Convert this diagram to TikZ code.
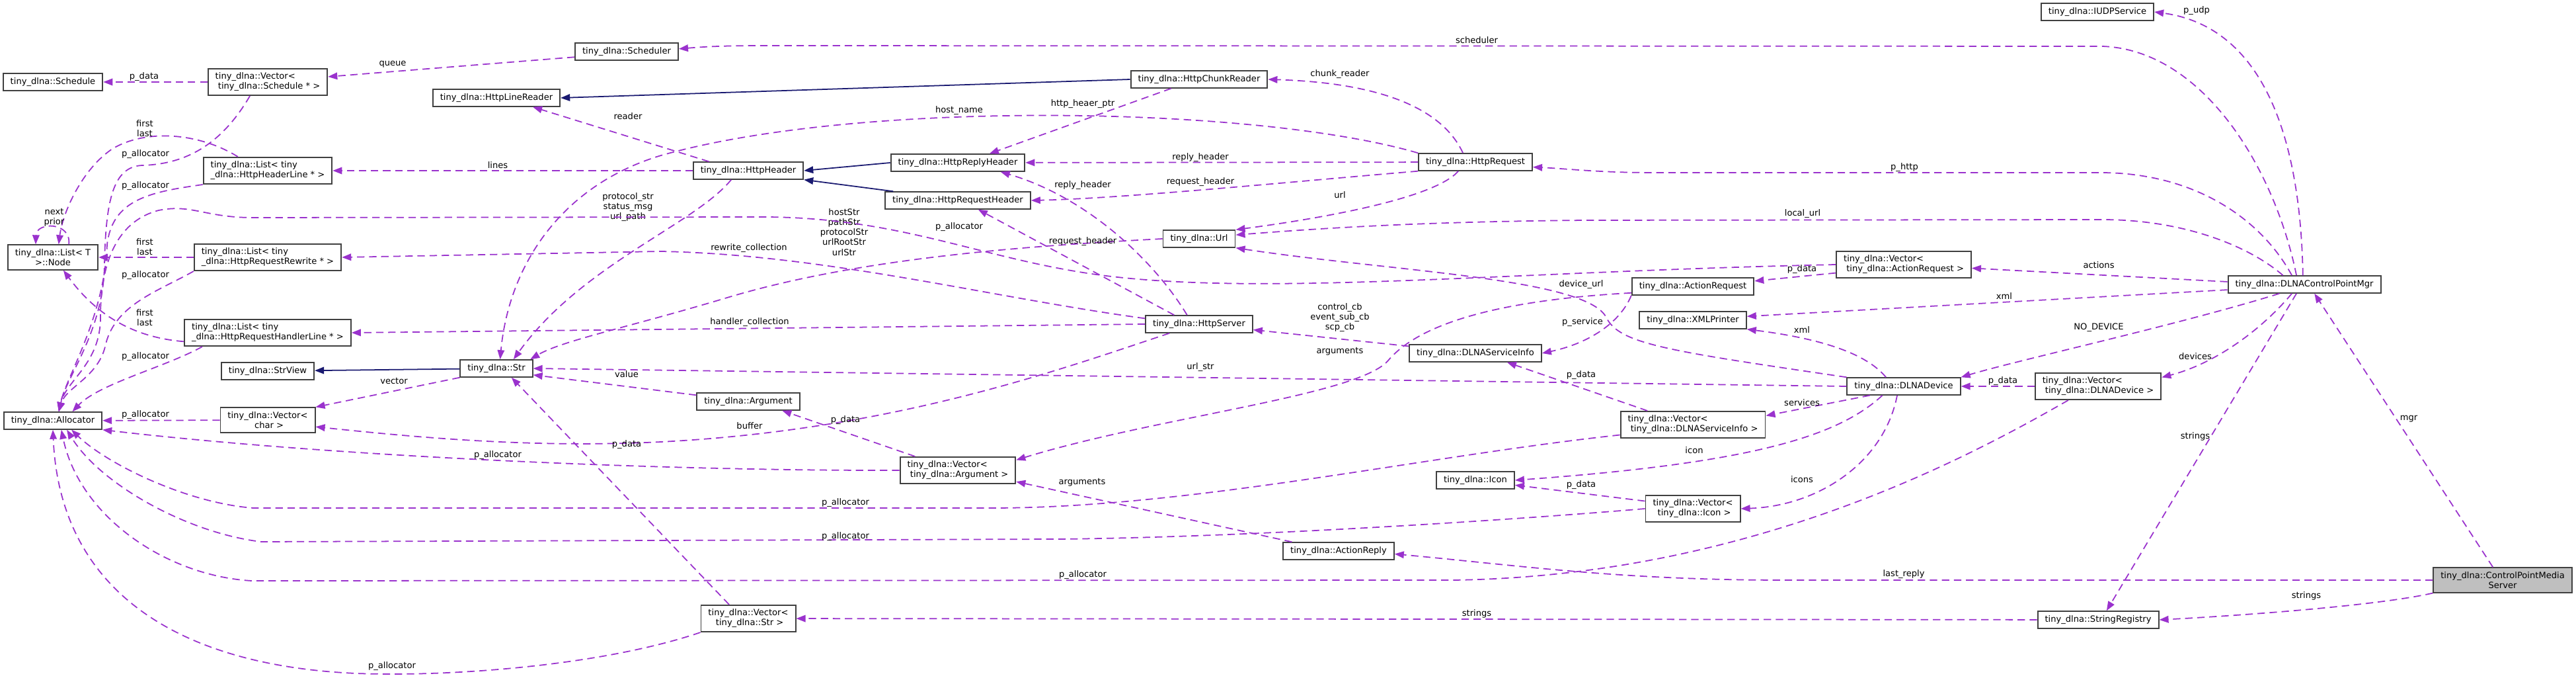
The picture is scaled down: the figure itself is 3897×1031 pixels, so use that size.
\documentclass[tikz,border=0pt]{standalone}
\usepackage{fontspec}
\setmainfont{DejaVu Sans}
\usetikzlibrary{arrows.meta}
\definecolor{usecol}{HTML}{9A32CD}
\definecolor{inhcol}{HTML}{191970}
\definecolor{boxline}{HTML}{404040}
\definecolor{rootfill}{HTML}{BFBFBF}
\newcommand{\dxfont}{\fontsize{3.72pt}{4.3pt}\selectfont}
\newcommand{\lead}{\hspace*{.32em}}
\tikzset{
  cls/.style  = {rectangle, draw=boxline, line width=0.55pt, fill=white,
                 inner xsep=0.11cm, inner ysep=0.06cm, minimum height=0.255cm,
                 align=center, font=\dxfont},
  clsl/.style = {cls, align=left},
  root/.style = {cls, fill=rootfill},
  mbr/.style  = {draw=usecol, line width=0.5pt, dash pattern=on 3.2pt off 2pt,
                 -{Triangle[length=4pt,width=3pt]}},
  inh/.style  = {draw=inhcol, line width=0.5pt, -{Triangle[length=4pt,width=3pt]}},
  lbl/.style  = {inner sep=0pt, align=center, font=\dxfont},
}

\begin{document}
\begin{tikzpicture}[x=0.01cm, y=-0.01cm]
  \useasboundingbox (0,0) rectangle (3897,1031);

  % classes
  \node[cls]  (schedule)      at (80,124)   {tiny\_dlna::Schedule};
  \node[clsl] (vecsched)      at (405,124)  {tiny\_dlna::Vector<\\\lead tiny\_dlna::Schedule * >};
  \node[cls]  (scheduler)     at (948,78)   {tiny\_dlna::Scheduler};
  \node[cls]  (linereader)    at (751,148)  {tiny\_dlna::HttpLineReader};
  \node[cls]  (chunkreader)   at (1814,120) {tiny\_dlna::HttpChunkReader};
  \node[clsl] (listhdr)       at (405,258)  {tiny\_dlna::List< tiny\\\_dlna::HttpHeaderLine * >};
  \node[cls]  (lnode)         at (80,389)   {tiny\_dlna::List< T\\>::Node};
  \node[clsl] (listrw)        at (405,389)  {tiny\_dlna::List< tiny\\\_dlna::HttpRequestRewrite * >};
  \node[clsl] (listhl)        at (405,503)  {tiny\_dlna::List< tiny\\\_dlna::HttpRequestHandlerLine * >};
  \node[cls]  (strview)       at (405,561)  {tiny\_dlna::StrView};
  \node[cls]  (str)           at (751,557)  {tiny\_dlna::Str};
  \node[cls]  (vecchar)       at (405,635)  {tiny\_dlna::Vector<\\\lead char >};
  \node[cls]  (alloc)         at (80,636)   {tiny\_dlna::Allocator};
  \node[cls]  (httpheader)    at (1132,258) {tiny\_dlna::HttpHeader};
  \node[cls]  (replyheader)   at (1449,246) {tiny\_dlna::HttpReplyHeader};
  \node[cls]  (requestheader) at (1449,303) {tiny\_dlna::HttpRequestHeader};
  \node[cls]  (url)           at (1814,361) {tiny\_dlna::Url};
  \node[cls]  (httpserver)    at (1814,490) {tiny\_dlna::HttpServer};
  \node[cls]  (argument)      at (1132,607) {tiny\_dlna::Argument};
  \node[clsl] (vecarg)        at (1449,711) {tiny\_dlna::Vector<\\\lead tiny\_dlna::Argument >};
  \node[cls]  (vecstr)        at (1132,935) {tiny\_dlna::Vector<\\\lead tiny\_dlna::Str >};
  \node[cls]  (actionreply)   at (2025,833) {tiny\_dlna::ActionReply};
  \node[cls]  (httprequest)   at (2232,245) {tiny\_dlna::HttpRequest};
  \node[clsl] (vecactreq)     at (2880,400) {tiny\_dlna::Vector<\\\lead tiny\_dlna::ActionRequest >};
  \node[cls]  (actionrequest) at (2561,433) {tiny\_dlna::ActionRequest};
  \node[cls]  (xmlprinter)    at (2561,484) {tiny\_dlna::XMLPrinter};
  \node[cls]  (servinfo)      at (2232,534) {tiny\_dlna::DLNAServiceInfo};
  \node[cls]  (dlnadevice)    at (2880,584) {tiny\_dlna::DLNADevice};
  \node[clsl] (vecservinfo)   at (2561,642) {tiny\_dlna::Vector<\\\lead tiny\_dlna::DLNAServiceInfo >};
  \node[cls]  (icon)          at (2232,726) {tiny\_dlna::Icon};
  \node[cls]  (vecicon)       at (2561,769) {tiny\_dlna::Vector<\\\lead tiny\_dlna::Icon >};
  \node[cls]  (iudp)          at (3173,18)  {tiny\_dlna::IUDPService};
  \node[cls]  (cpmgr)         at (3486,430) {tiny\_dlna::DLNAControlPointMgr};
  \node[clsl] (vecdev)        at (3174,584) {tiny\_dlna::Vector<\\\lead tiny\_dlna::DLNADevice >};
  \node[root] (cpms)          at (3786,877) {tiny\_dlna::ControlPointMedia\\Server};
  \node[cls]  (strreg)        at (3174,937) {tiny\_dlna::StringRegistry};

  % inheritance
  \draw[inh] (chunkreader.west) -- (linereader.east);
  \draw[inh] (replyheader.west) -- (httpheader.east);
  \draw[inh] (requestheader.172) -- (httpheader.south east);
  \draw[inh] (str) -- (strview);

  % members, left part
  \draw[mbr] (vecsched) -- (schedule) node[lbl] (t1) at (218,116) {p\_data};
  \draw[mbr] (scheduler.186) -- (vecsched.5) node[lbl] (t2) at (594,97) {queue};
  \draw[mbr] (vecsched.218) .. controls (340,210) and (290,248) .. (215,250)
    .. controls (172,252) and (160,300) .. (158,400)
    .. controls (157,500) and (100,570) .. (alloc.57) node[lbl] (t3) at (220,233) {p\_allocator};
  \draw[mbr] (listhdr.155) .. controls (300,200) and (220,195) .. (170,225)
    .. controls (125,255) and (95,320) .. (lnode.66) node[lbl] (t4) at (219,194) {first\\last};
  \draw[mbr] (listhdr.south west) .. controls (230,290) and (170,300) .. (162,370)
    .. controls (158,480) and (100,570) .. (alloc.57) node[lbl] (t5) at (220,281) {p\_allocator};
  \draw[mbr] (lnode.39) .. controls (108,335) and (55,335) .. (lnode.143) node[lbl] (t6) at (82,329) {next\\prior};
  \draw[mbr] (listrw) -- (lnode) node[lbl] (t7) at (219,373) {first\\last};
  \draw[mbr] (listrw.south west) .. controls (240,440) and (175,460) .. (160,520)
    .. controls (150,570) and (100,585) .. (alloc.57) node[lbl] (t8) at (220,416) {p\_allocator};
  \draw[mbr] (listhl.186) .. controls (200,510) and (145,475) .. (lnode.309) node[lbl] (t9) at (219,480) {first\\last};
  \draw[mbr] (listhl.192) .. controls (250,555) and (150,580) .. (alloc.25) node[lbl] (t10) at (220,539) {p\_allocator};
  \draw[mbr] (vecchar) -- (alloc) node[lbl] (t11) at (220,627) {p\_allocator};
  \draw[mbr] (str.south west) -- (vecchar.north east) node[lbl] (t12) at (596,576) {vector};
  \draw[mbr] (httpheader.167) -- (linereader.346) node[lbl] (t13) at (950,176) {reader};
  \draw[mbr] (httpheader) -- (listhdr) node[lbl] (t14) at (753,250) {lines};
  \draw[mbr] (httpheader.208) .. controls (1050,340) and (880,400) .. (str.28)
    node[lbl] (t15) at (950,313) {protocol\_str\\status\_msg\\url\_path};
  \draw[mbr] (url.west) .. controls (1550,372) and (1300,390) .. (1100,450)
    .. controls (950,495) and (850,515) .. (str.15)
    node[lbl] (t16) at (1277,351) {hostStr\\pathStr\\protocolStr\\urlRootStr\\urlStr};

  % http request / server
  \draw[mbr] (httprequest.144) .. controls (2180,160) and (2080,125) .. (chunkreader.east)
    node[lbl] (t17) at (2027,112) {chunk\_reader};
  \draw[mbr] (chunkreader.198) -- (replyheader.16) node[lbl] (t18) at (1638,157) {http\_heaer\_ptr};
  \draw[mbr] (httprequest.north west) .. controls (1900,160) and (1300,150) .. (1000,235)
    .. controls (850,280) and (770,400) .. (str.68) node[lbl] (t19) at (1451,167) {host\_name};
  \draw[mbr] (httprequest) -- (replyheader) node[lbl] (t20) at (1816,238) {reply\_header};
  \draw[mbr] (httprequest.south west) .. controls (1950,275) and (1700,300) .. (requestheader.east)
    node[lbl] (t21) at (1816,275) {request\_header};
  \draw[mbr] (httprequest.208) .. controls (2170,300) and (2000,330) .. (url.north east)
    node[lbl] (t22) at (2027,295) {url};
  \draw[mbr] (httpserver.143) .. controls (1750,400) and (1650,300) .. (replyheader.348)
    node[lbl] (t23) at (1638,280) {reply\_header};
  \draw[mbr] (httpserver.160) -- (requestheader.336) node[lbl] (t24) at (1638,365) {request\_header};
  \draw[mbr] (httpserver.197) .. controls (1600,560) and (1350,650) .. (1000,668)
    .. controls (800,678) and (620,660) .. (vecchar.352) node[lbl] (t25) at (1134,644) {buffer};
  \draw[mbr] (httpserver.174) .. controls (1500,450) and (1250,385) .. (1000,380) -- (listrw.east)
    node[lbl] (t26) at (1133,375) {rewrite\_collection};
  \draw[mbr] (httpserver.west) -- (listhl.east) node[lbl] (t27) at (1134,487) {handler\_collection};
  \draw[mbr] (servinfo.174) -- (httpserver.354)
    node[lbl] (t28) at (2027,480) {control\_cb\\event\_sub\_cb\\scp\_cb};

  % actions, arguments
  \draw[mbr] (actionrequest.south west) .. controls (2450,490) and (2400,520) .. (servinfo.east)
    node[lbl] (t29) at (2394,487) {p\_service};
  \draw[mbr] (actionrequest.186) .. controls (2300,452) and (2155,480) .. (2100,545)
    .. controls (2055,598) and (1750,630) .. (vecarg.10) node[lbl] (t30) at (2027,531) {arguments};
  \draw[mbr] (vecactreq.187) -- (actionrequest.5) node[lbl] (t31) at (2726,407) {p\_data};
  \draw[mbr] (vecactreq.west) .. controls (2300,410) and (1950,445) .. (1700,420)
    .. controls (1500,400) and (1380,330) .. (1160,328) -- (383,329)
    .. controls (310,329) and (290,308) .. (240,318)
    .. controls (175,335) and (152,400) .. (152,480)
    .. controls (152,550) and (100,575) .. (alloc.57) node[lbl] (t32) at (1451,343) {p\_allocator};
  \draw[mbr] (actionreply.169) -- (vecarg.349) node[lbl] (t33) at (1637,729) {arguments};
  \draw[mbr] (vecarg.162) -- (argument.345) node[lbl] (t34) at (1279,635) {p\_data};
  \draw[mbr] (argument.173) -- (str.350) node[lbl] (t35) at (948,566) {value};
  \draw[mbr] (vecstr.144) -- (str.329) node[lbl] (t36) at (948,672) {p\_data};
  \draw[mbr] (vecarg.west) .. controls (1000,712) and (500,690) .. (alloc.south east)
    node[lbl] (t37) at (753,688) {p\_allocator};

  % device side
  \draw[mbr] (dlnadevice.153) .. controls (2820,530) and (2740,510) .. (xmlprinter.south east)
    node[lbl] (t38) at (2726,499) {xml};
  \draw[mbr] (dlnadevice.west) -- (str.east) node[lbl] (t39) at (1816,555) {url\_str};
  \draw[mbr] (dlnadevice.north west) .. controls (2520,530) and (2450,520) .. (2430,480)
    .. controls (2400,420) and (2100,410) .. (url.south east) node[lbl] (t40) at (2392,430) {device\_url};
  \draw[mbr] (dlnadevice.195) -- (vecservinfo.7) node[lbl] (t41) at (2726,609) {services};
  \draw[mbr] (dlnadevice.203) .. controls (2780,660) and (2650,700) .. (icon.east)
    node[lbl] (t42) at (2563,681) {icon};
  \draw[mbr] (dlnadevice.234) .. controls (2850,700) and (2750,765) .. (vecicon.east)
    node[lbl] (t43) at (2726,725) {icons};
  \draw[mbr] (vecicon.171) -- (icon.353) node[lbl] (t44) at (2392,733) {p\_data};
  \draw[mbr] (vecservinfo.163) -- (servinfo.344) node[lbl] (t45) at (2392,567) {p\_data};
  \draw[mbr] (vecservinfo.188) .. controls (2150,690) and (1800,768) .. (1500,768) -- (383,768)
    .. controls (280,760) and (160,700) .. (alloc.334) node[lbl] (t46) at (1279,760) {p\_allocator};
  \draw[mbr] (vecicon.west) .. controls (2300,785) and (1900,812) .. (1600,815) -- (395,819)
    .. controls (280,805) and (150,730) .. (alloc.327) node[lbl] (t47) at (1279,811) {p\_allocator};
  \draw[mbr] (vecdev.205) .. controls (2980,690) and (2650,870) .. (2200,877) -- (380,878)
    .. controls (250,870) and (120,780) .. (alloc.313) node[lbl] (t48) at (1638,869) {p\_allocator};
  \draw[mbr] (vecstr.south west) .. controls (900,1010) and (650,1025) .. (520,1017)
    .. controls (250,1000) and (90,880) .. (alloc.south) node[lbl] (t49) at (593,1007) {p\_allocator};
  \draw[mbr] (vecdev) -- (dlnadevice) node[lbl] (t50) at (3030,576) {p\_data};

  % control point manager
  \draw[mbr] (cpmgr.131) .. controls (3440,250) and (3330,75) .. (3180,70) -- (1150,69)
    .. controls (1080,69) and (1050,72) .. (scheduler.3) node[lbl] (t51) at (2234,61) {scheduler};
  \draw[mbr] (cpmgr.99) .. controls (3480,200) and (3420,40) .. (iudp.east)
    node[lbl] (t52) at (3323,16) {p\_udp};
  \draw[mbr] (cpmgr.144) .. controls (3420,330) and (3320,262) .. (3180,261) -- (2500,261)
    .. controls (2420,261) and (2370,255) .. (httprequest.355) node[lbl] (t53) at (2881,253) {p\_http};
  \draw[mbr] (cpmgr.157) .. controls (3400,370) and (3300,332) .. (3180,332) -- (2400,333)
    .. controls (2150,335) and (2000,345) .. (url.6) node[lbl] (t54) at (2727,323) {local\_url};
  \draw[mbr] (cpmgr.178) -- (vecactreq.357) node[lbl] (t55) at (3175,401) {actions};
  \draw[mbr] (cpmgr.184) -- (xmlprinter.4) node[lbl] (t56) at (3032,448) {xml};
  \draw[mbr] (cpmgr.200) .. controls (3300,490) and (3050,545) .. (dlnadevice.north east)
    node[lbl] (t57) at (3175,495) {NO\_DEVICE};
  \draw[mbr] (cpmgr.216) .. controls (3420,500) and (3350,550) .. (vecdev.8)
    node[lbl] (t58) at (3321,539) {devices};
  \draw[mbr] (cpmgr.229) -- (strreg.47) node[lbl] (t59) at (3321,660) {strings};

  % root
  \draw[mbr] (cpms.127) -- (cpmgr.318) node[lbl] (t60) at (3644,633) {mgr};
  \draw[mbr] (cpms.west) -- (2700,877) .. controls (2450,877) and (2300,855) .. (actionreply.357)
    node[lbl] (t61) at (2880,868) {last\_reply};
  \draw[mbr] (cpms.south west) .. controls (3600,915) and (3400,930) .. (strreg.east)
    node[lbl] (t62) at (3489,901) {strings};
  \draw[mbr] (strreg) -- (vecstr) node[lbl] (t63) at (2234,928) {strings};

\end{tikzpicture}
\end{document}
